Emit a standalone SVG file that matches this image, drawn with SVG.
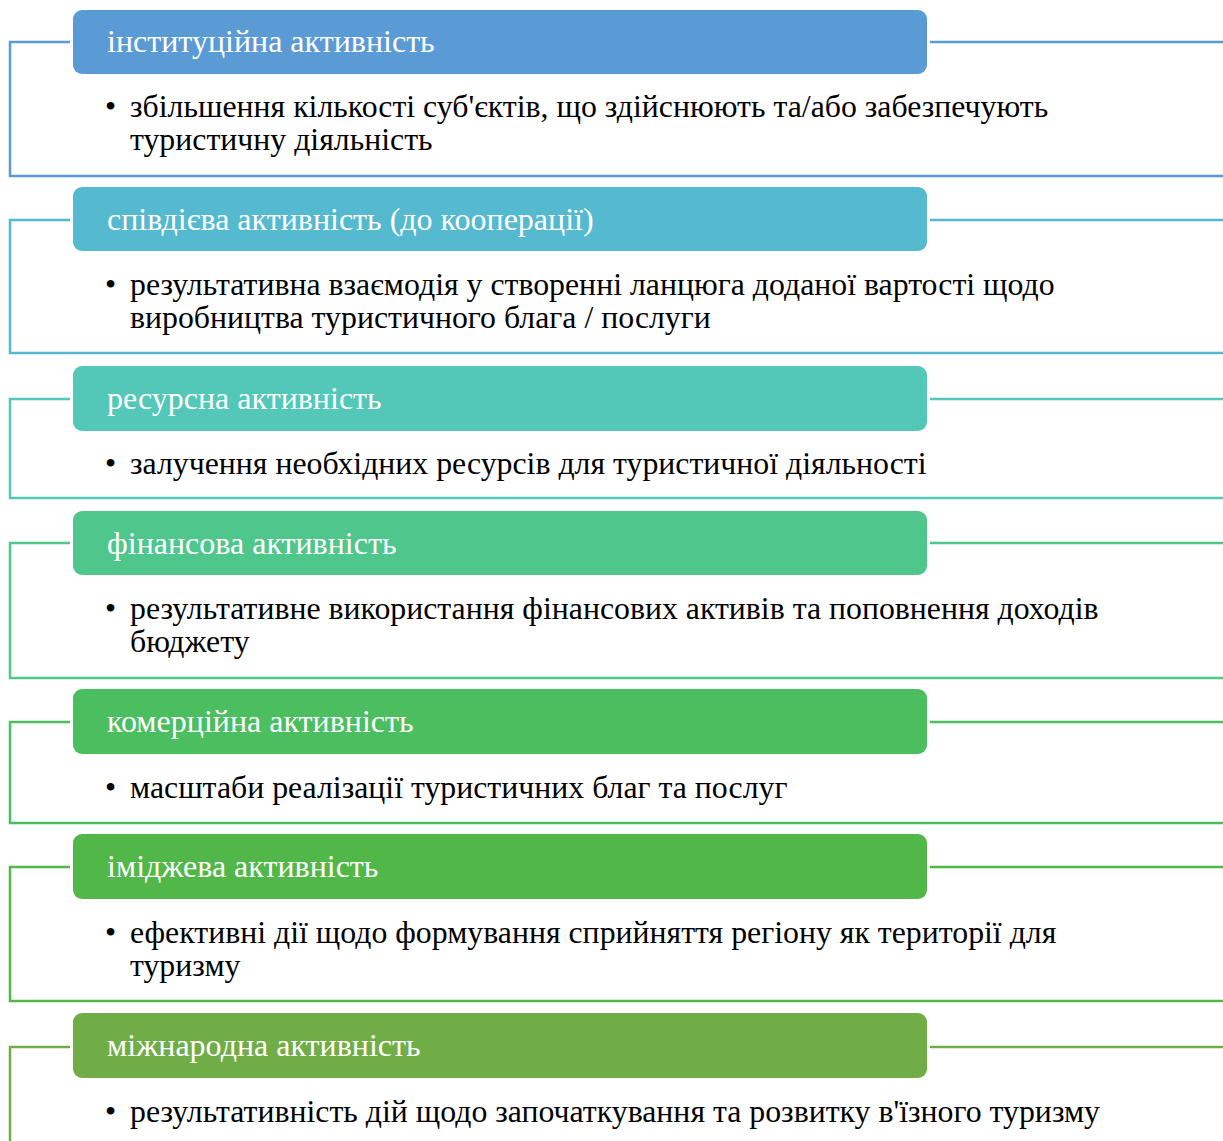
<svg xmlns="http://www.w3.org/2000/svg" width="1223" height="1141" viewBox="0 0 1223 1141">
<style>
.hd{font-family:"Liberation Serif","Times New Roman",serif;font-size:32px;fill:#ffffff}
.bd{font-family:"Liberation Serif","Times New Roman",serif;font-size:31.8px;fill:#000000}
.bl{font-family:"Liberation Serif","Times New Roman",serif;font-size:31.8px;fill:#000000}
.ln{fill:none;stroke-width:2.5}
</style>
<rect width="1223" height="1141" fill="#ffffff"/>
<g id="connectors">
<path class="ln" stroke="#5B9BD5" d="M70 42 H10 V176 H1223 M930 42 H1223"/>
<path class="ln" stroke="#55B9CF" d="M70 220 H10 V353 H1223 M930 220 H1223"/>
<path class="ln" stroke="#53C8B8" d="M70 399 H10 V498 H1223 M930 399 H1223"/>
<path class="ln" stroke="#4FC68C" d="M70 543 H10 V678 H1223 M930 543 H1223"/>
<path class="ln" stroke="#4BBE5F" d="M70 722 H10 V823 H1223 M930 722 H1223"/>
<path class="ln" stroke="#51B748" d="M70 867 H10 V1001 H1223 M930 867 H1223"/>
<path class="ln" stroke="#70AD47" d="M70 1047 H10 V1141 M930 1047 H1223"/>
</g>
<g id="n1">
<rect x="73" y="10" width="854" height="64" rx="9" fill="#5B9BD5"/>
<text class="hd" x="107" y="52">інституційна активність</text>
<text class="bl" x="105" y="117">•</text>
<text class="bd" x="130" y="117">збільшення кількості суб'єктів, що здійснюють та/або забезпечують</text>
<text class="bd" x="130" y="150">туристичну діяльність</text>
</g>
<g id="n2">
<rect x="73" y="187" width="854" height="64" rx="9" fill="#55B9CF"/>
<text class="hd" x="107" y="230">співдієва активність (до кооперації)</text>
<text class="bl" x="105" y="295">•</text>
<text class="bd" x="130" y="295">результативна взаємодія у створенні ланцюга доданої вартості щодо</text>
<text class="bd" x="130" y="328">виробництва туристичного блага / послуги</text>
</g>
<g id="n3">
<rect x="73" y="366" width="854" height="65" rx="9" fill="#53C8B8"/>
<text class="hd" x="107" y="409">ресурсна активність</text>
<text class="bl" x="105" y="474">•</text>
<text class="bd" x="130" y="474">залучення необхідних ресурсів для туристичної діяльності</text>
</g>
<g id="n4">
<rect x="73" y="511" width="854" height="64" rx="9" fill="#4FC68C"/>
<text class="hd" x="107" y="554">фінансова активність</text>
<text class="bl" x="105" y="619">•</text>
<text class="bd" x="130" y="619">результативне використання фінансових активів та поповнення доходів</text>
<text class="bd" x="130" y="652">бюджету</text>
</g>
<g id="n5">
<rect x="73" y="689" width="854" height="65" rx="9" fill="#4BBE5F"/>
<text class="hd" x="107" y="732">комерційна активність</text>
<text class="bl" x="105" y="798">•</text>
<text class="bd" x="130" y="798">масштаби реалізації туристичних благ та послуг</text>
</g>
<g id="n6">
<rect x="73" y="834" width="854" height="65" rx="9" fill="#51B748"/>
<text class="hd" x="107" y="877">іміджева активність</text>
<text class="bl" x="105" y="943">•</text>
<text class="bd" x="130" y="943">ефективні дії щодо формування сприйняття регіону як території для</text>
<text class="bd" x="130" y="976">туризму</text>
</g>
<g id="n7">
<rect x="73" y="1013" width="854" height="65" rx="9" fill="#70AD47"/>
<text class="hd" x="107" y="1056">міжнародна активність</text>
<text class="bl" x="105" y="1122">•</text>
<text class="bd" x="130" y="1122">результативність дій щодо започаткування та розвитку в'їзного туризму</text>
</g>
</svg>
